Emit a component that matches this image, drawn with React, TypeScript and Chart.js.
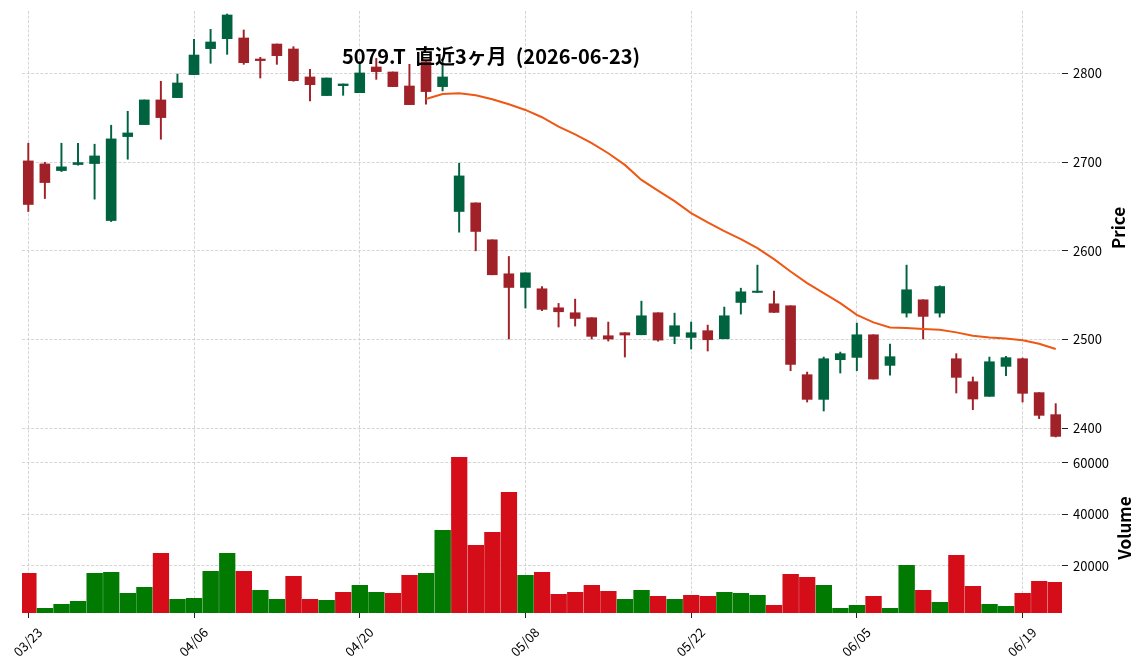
import React, { useEffect, useRef } from 'react';
import { Chart, registerables } from 'chart.js';

Chart.register(...registerables);

// ---- data ----
const dates = [
  '03/23', '03/24', '03/25', '03/26', '03/27', '03/30', '03/31',
  '04/01', '04/02', '04/03', '04/06', '04/07', '04/08', '04/09', '04/10',
  '04/13', '04/14', '04/15', '04/16', '04/17', '04/20', '04/21', '04/22',
  '04/23', '04/24', '04/27', '04/28', '04/30',
  '05/01', '05/07', '05/08', '05/11', '05/12', '05/13', '05/14', '05/15',
  '05/18', '05/19', '05/20', '05/21', '05/22', '05/25', '05/26', '05/27',
  '05/28', '05/29',
  '06/01', '06/02', '06/03', '06/04', '06/05', '06/08', '06/09', '06/10',
  '06/11', '06/12', '06/15', '06/16', '06/17', '06/18', '06/19', '06/22', '06/23',
];

const opens = [
  2701.3, 2697.9, 2690.4, 2697.2, 2698.3, 2634.1, 2728.7, 2742.2, 2770.0, 2772.6,
  2798.5, 2827.8, 2839.0, 2839.8, 2816.1, 2833.0, 2827.4, 2795.9, 2774.9, 2786.1,
  2778.2, 2807.1, 2801.5, 2785.7, 2813.1, 2785.0, 2644.3, 2654.0, 2612.4, 2574.1,
  2558.7, 2557.2, 2535.8, 2530.2, 2524.6, 2504.3, 2507.7, 2505.4, 2530.2, 2503.6,
  2502.4, 2510.0, 2500.9, 2541.8, 2553.1, 2540.3, 2538.1, 2460.4, 2432.6, 2477.3,
  2479.9, 2505.4, 2470.9, 2529.8, 2544.8, 2529.8, 2478.4, 2452.5, 2436.0, 2469.8,
  2478.4, 2440.2, 2415.4,
];

const highs = [
  2721.2, 2699.8, 2721.2, 2721.2, 2720.1, 2741.5, 2757.2, 2770.0, 2791.0, 2799.2,
  2838.3, 2849.5, 2866.8, 2848.8, 2818.0, 2833.0, 2830.0, 2804.5, 2794.7, 2788.0,
  2813.1, 2816.9, 2801.5, 2810.1, 2813.5, 2814.0, 2698.7, 2654.0, 2612.4, 2593.6,
  2575.2, 2559.8, 2540.7, 2545.6, 2524.6, 2519.7, 2507.7, 2543.3, 2530.2, 2529.8,
  2519.7, 2516.3, 2536.6, 2557.9, 2583.9, 2554.6, 2538.1, 2463.4, 2480.3, 2485.9,
  2518.6, 2505.4, 2494.9, 2583.9, 2544.8, 2560.6, 2484.1, 2457.8, 2480.3, 2481.1,
  2479.2, 2440.2, 2427.8,
];

const lows = [
  2644.3, 2658.9, 2689.3, 2696.5, 2658.2, 2633.0, 2703.2, 2742.2, 2725.7, 2772.6,
  2798.5, 2811.3, 2821.4, 2810.1, 2794.7, 2810.1, 2791.0, 2768.9, 2774.9, 2775.2,
  2778.2, 2793.2, 2785.0, 2764.7, 2765.1, 2780.1, 2621.0, 2600.0, 2573.0, 2500.6,
  2535.5, 2532.5, 2514.1, 2515.2, 2500.6, 2498.3, 2480.3, 2505.4, 2498.3, 2495.3,
  2489.3, 2487.1, 2500.9, 2528.7, 2553.1, 2530.6, 2464.9, 2429.6, 2419.5, 2462.3,
  2464.9, 2455.5, 2460.0, 2525.3, 2500.6, 2525.3, 2439.8, 2421.0, 2436.0, 2459.3,
  2429.6, 2410.9, 2390.2,
];

const closes = [
  2652.2, 2676.9, 2694.6, 2699.4, 2706.9, 2726.1, 2732.8, 2770.0, 2750.1, 2789.1,
  2820.6, 2835.3, 2865.7, 2812.0, 2814.3, 2819.9, 2791.7, 2787.2, 2794.7, 2788.0,
  2800.4, 2801.9, 2785.0, 2764.7, 2779.4, 2795.9, 2684.4, 2621.8, 2573.0, 2558.7,
  2575.2, 2534.0, 2531.3, 2523.8, 2503.6, 2500.6, 2505.1, 2526.8, 2499.4, 2515.6,
  2507.7, 2499.8, 2526.8, 2553.8, 2554.6, 2530.6, 2472.0, 2432.6, 2478.4, 2484.1,
  2505.4, 2455.5, 2480.7, 2556.1, 2526.1, 2559.8, 2457.4, 2433.0, 2475.0, 2479.6,
  2439.4, 2414.6, 2390.9,
];

const volumes = [
  17150, 3560, 5110, 6280, 17150, 17540, 9390, 11720, 24920, 7060,
  7440, 17930, 24920, 17930, 10550, 7060, 15990, 7060, 6670, 9770,
  12490, 9770, 9390, 16380, 17150, 33850, 62200, 28030, 33070, 48610,
  16380, 17540, 9000, 9770, 12490, 10160, 7060, 10550, 8220, 7060,
  8610, 8220, 9770, 9390, 8610, 4730, 16760, 15600, 12490, 3560,
  4730, 8220, 3560, 20260, 10550, 5890, 24140, 12100, 5110, 4340,
  9390, 14050, 13660,
];

// 25-day moving average line (starts at the 25th session)
const maStart = 24;
const ma25 = [
  2771.1, 2776.7, 2777.5, 2775.2, 2770.7, 2765.1, 2758.7, 2750.5, 2740.0, 2731.3,
  2721.2, 2709.9, 2696.8, 2679.9, 2667.9, 2655.9, 2642.4, 2631.9, 2622.1, 2613.1,
  2603.0, 2590.6, 2576.7, 2563.6, 2552.3, 2541.1, 2527.9, 2519.3, 2513.7, 2512.9,
  2511.8, 2511.1, 2508.1, 2504.3, 2502.4, 2501.3, 2499.1, 2495.3, 2489.3,
];

const priceTicks = [2400, 2500, 2600, 2700, 2800];
const volumeTicks = [20000, 40000, 60000];
const xTickIdx = [0, 10, 20, 30, 40, 50, 60];

const TITLE = '5079.T  直近3ヶ月  (2026-06-23)';

// ---- styles ----
const FONT = "'Noto Sans CJK JP', 'Noto Sans', sans-serif";
const UP = '#006340';
const DOWN = '#a02128';
const VUP = '#007a00';
const VDOWN = '#d50d18';
const MA_COLOR = '#ef5714';
const GRID = '#d0d0d0';
const W = 1145;
const H = 670;

const textPlugin = {
  id: 'customTexts',
  afterDraw(chart: any) {
    const c = chart.ctx as CanvasRenderingContext2D;
    c.save();
    c.fillStyle = '#000';
    c.textAlign = 'center';
    c.textBaseline = 'middle';
    c.font = `bold 20px ${FONT}`;
    c.fillText(TITLE, 491, 56);

    c.font = `bold 17px ${FONT}`;
    c.save();
    c.translate(1118.5, 228);
    c.rotate(-Math.PI / 2);
    c.fillText('Price', 0, 0);
    c.restore();
    c.save();
    c.translate(1125, 528);
    c.rotate(-Math.PI / 2);
    c.fillText('Volume', 0, 0);
    c.restore();

    const xs = chart.scales.x;
    c.font = `13px ${FONT}`;
    xTickIdx.forEach((i) => {
      const px = xs.getPixelForValue(i);
      c.save();
      c.translate(px - 0.5, 642);
      c.rotate(-Math.PI / 4);
      c.fillText(dates[i], 0, 0);
      c.restore();
    });
    c.restore();
  },
};

export default function App() {
  const ref = useRef<HTMLCanvasElement>(null);

  useEffect(() => {
    const canvas = ref.current;
    if (!canvas) return;
    Chart.defaults.font.family = FONT;
    const idx = dates.map((_, i) => i);
    const candleUp = idx.map((i) => closes[i] >= opens[i]);
    const volUp = idx.map((i) => (i === 0 ? closes[0] >= opens[0] : closes[i] >= closes[i - 1]));

    const gridOpts = {
      color: GRID,
      lineWidth: 0.9,
      offset: false,
      drawTicks: true,
      tickLength: 6,
      tickColor: '#222',
      tickWidth: 1,
    };
    const borderOpts = { display: false, dash: [3, 1.6] };

    const fitY = (s: any) => {
      s.width = 83;
      s.paddingTop = 0;
      s.paddingBottom = 0;
    };

    const chart = new Chart(canvas, {
      type: 'bar',
      data: {
        datasets: [
          {
            type: 'line',
            data: ma25.map((v, k) => ({ x: k + maStart, y: v })),
            borderColor: MA_COLOR,
            borderWidth: 2,
            pointRadius: 0,
            fill: false,
            tension: 0,
            yAxisID: 'y',
            xAxisID: 'x',
            order: 0,
          } as any,
          {
            type: 'bar',
            data: idx.map((i) => ({ x: i, y: [Math.min(opens[i], closes[i]), Math.max(opens[i], closes[i])] })),
            backgroundColor: idx.map((i) => (candleUp[i] ? UP : DOWN)),
            barThickness: 10,
            grouped: false,
            yAxisID: 'y',
            xAxisID: 'x',
            order: 1,
          } as any,
          {
            type: 'bar',
            data: idx.map((i) => ({ x: i, y: [lows[i], highs[i]] })),
            backgroundColor: idx.map((i) => (candleUp[i] ? UP : DOWN)),
            barThickness: 1.3,
            grouped: false,
            yAxisID: 'y',
            xAxisID: 'x',
            order: 2,
          } as any,
          {
            type: 'bar',
            data: idx.map((i) => ({ x: i, y: volumes[i] })),
            backgroundColor: idx.map((i) => (volUp[i] ? VUP : VDOWN)),
            borderColor: 'rgba(0,0,0,0.08)',
            borderWidth: { left: 0.6, right: 0, top: 0, bottom: 0 },
            borderSkipped: false,
            barThickness: 16.6,
            grouped: false,
            yAxisID: 'yv',
            xAxisID: 'x',
            order: 3,
          } as any,
        ],
      },
      options: {
        responsive: false,
        animation: false,
        devicePixelRatio: 1,
        layout: { padding: { left: 22, top: 11, right: 0, bottom: 0 } },
        plugins: {
          legend: { display: false },
          tooltip: { enabled: false },
          title: { display: false },
        },
        scales: {
          x: {
            type: 'linear',
            min: -0.38,
            max: 62.38,
            offset: false,
            position: 'bottom',
            grid: { ...gridOpts, tickLength: 5 },
            border: borderOpts,
            ticks: { display: false },
            afterBuildTicks: (s: any) => {
              s.ticks = xTickIdx.map((v) => ({ value: v }));
            },
            afterFit: (s: any) => {
              s.height = 57;
              s.paddingLeft = 0;
              s.paddingRight = 0;
            },
          },
          y: {
            type: 'linear',
            position: 'right',
            stack: 'main',
            stackWeight: 430,
            min: 2385.7,
            max: 2870.2,
            beginAtZero: false,
            grid: gridOpts,
            border: borderOpts,
            ticks: {
              color: '#000',
              padding: 5,
              font: { size: 13, family: FONT },
              callback: (v: any) => String(v),
            },
            afterBuildTicks: (s: any) => {
              s.ticks = priceTicks.map((v) => ({ value: v }));
            },
            afterFit: fitY,
          },
          yv: {
            type: 'linear',
            position: 'right',
            stack: 'main',
            stackWeight: 172,
            min: 1631,
            max: 68427,
            beginAtZero: false,
            grid: gridOpts,
            border: borderOpts,
            ticks: {
              color: '#000',
              padding: 5,
              font: { size: 13, family: FONT },
              callback: (v: any) => String(v),
            },
            afterBuildTicks: (s: any) => {
              s.ticks = volumeTicks.map((v) => ({ value: v }));
            },
            afterFit: fitY,
          },
        },
      } as any,
      plugins: [textPlugin],
    });
    return () => chart.destroy();
  }, []);

  return (
    <div style={{ position: 'fixed', left: 0, top: 0, width: W, height: H, background: '#fff' }}>
      <canvas ref={ref} width={W} height={H} style={{ display: 'block', width: W, height: H }} />
    </div>
  );
}
